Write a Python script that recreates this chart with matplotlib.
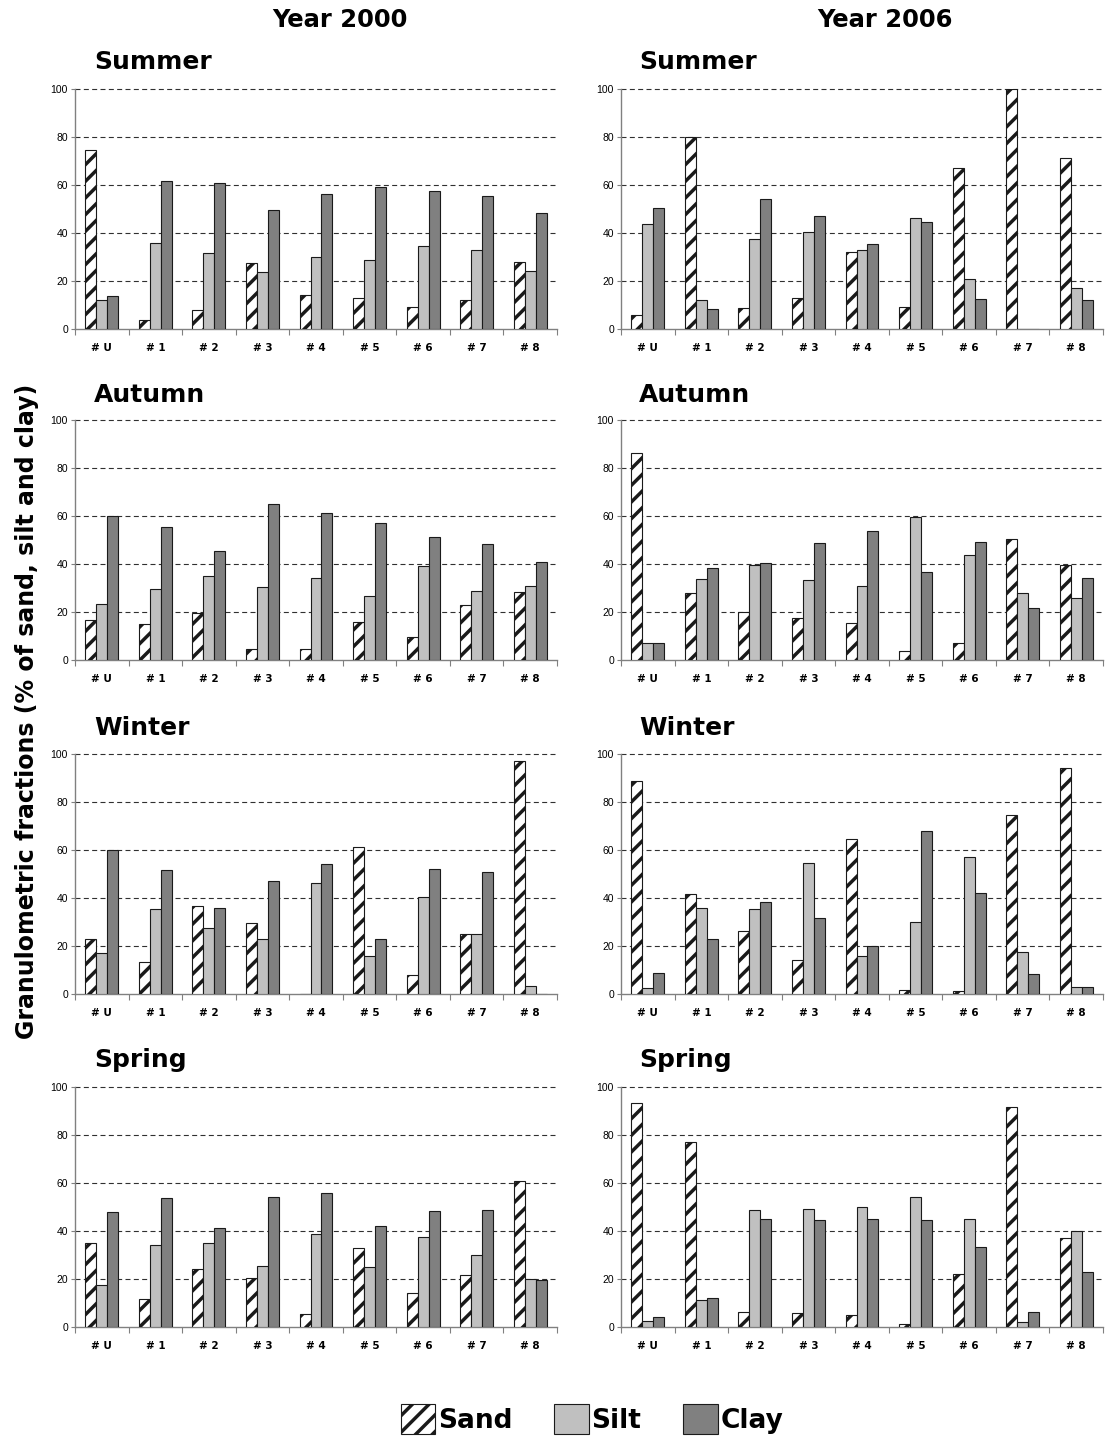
import matplotlib
matplotlib.use("Agg")
import matplotlib.pyplot as plt
import numpy as np

W_PX, H_PX = 1117, 1438
DPI = 100

SITES = ["# U", "# 1", "# 2", "# 3", "# 4", "# 5", "# 6", "# 7", "# 8"]
SEASONS = ["Summer", "Autumn", "Winter", "Spring"]
YEARS = ["Year 2000", "Year 2006"]

# year 2000
sand_2000_summer = [74.7, 3.8, 8.0, 27.5, 14.2, 12.9, 9.2, 12.1, 27.9]
silt_2000_summer = [12.2, 35.7, 31.5, 23.8, 30.0, 28.9, 34.4, 33.1, 24.2]
clay_2000_summer = [13.8, 61.5, 60.8, 49.7, 56.4, 59.0, 57.4, 55.4, 48.3]

sand_2000_autumn = [16.5, 14.9, 19.6, 4.7, 4.4, 16.0, 9.4, 22.9, 28.5]
silt_2000_autumn = [23.2, 29.6, 34.9, 30.3, 34.0, 26.8, 39.0, 28.6, 30.7]
clay_2000_autumn = [60.0, 55.3, 45.3, 64.9, 61.3, 57.1, 51.4, 48.2, 40.7]

sand_2000_winter = [22.9, 13.3, 36.6, 29.5, 0.0, 61.1, 7.9, 24.8, 97.0]
silt_2000_winter = [17.0, 35.3, 27.7, 23.1, 46.1, 15.8, 40.4, 24.8, 3.3]
clay_2000_winter = [60.0, 51.5, 36.0, 47.0, 54.2, 22.9, 51.9, 50.7, 0.0]

sand_2000_spring = [34.9, 11.8, 24.2, 20.5, 5.4, 32.8, 14.3, 21.7, 60.7]
silt_2000_spring = [17.6, 34.1, 34.9, 25.5, 38.9, 24.9, 37.7, 29.8, 19.9]
clay_2000_spring = [47.9, 53.9, 41.3, 54.2, 55.8, 42.1, 48.2, 48.8, 19.4]

# year 2006
sand_2006_summer = [5.8, 80.0, 8.6, 12.9, 32.1, 9.3, 66.9, 100.0, 71.1]
silt_2006_summer = [43.9, 11.9, 37.5, 40.3, 32.8, 46.2, 20.8, 0.0, 16.9]
clay_2006_summer = [50.4, 8.3, 54.2, 47.1, 35.6, 44.6, 12.5, 0.0, 12.2]

sand_2006_autumn = [86.1, 27.8, 20.0, 17.4, 15.3, 3.8, 6.9, 50.6, 39.7]
silt_2006_autumn = [6.9, 33.8, 39.6, 33.5, 31.0, 59.4, 43.6, 27.8, 25.7]
clay_2006_autumn = [6.9, 38.2, 40.6, 48.9, 53.6, 36.7, 49.2, 21.5, 34.0]

sand_2006_winter = [88.6, 41.7, 26.2, 14.3, 64.7, 1.8, 1.1, 74.5, 94.3]
silt_2006_winter = [2.5, 36.0, 35.6, 54.4, 15.8, 30.2, 56.9, 17.5, 2.8]
clay_2006_winter = [8.7, 22.9, 38.2, 31.6, 19.8, 68.0, 42.0, 8.2, 3.0]

sand_2006_spring = [93.2, 76.9, 6.1, 6.0, 5.1, 1.2, 22.2, 91.7, 37.1]
silt_2006_spring = [2.6, 11.2, 48.8, 49.0, 50.1, 54.3, 45.0, 2.1, 40.0]
clay_2006_spring = [4.2, 12.2, 45.0, 44.7, 45.0, 44.7, 33.4, 6.4, 23.0]

PANELS = {
    (0, 0): (sand_2000_summer, silt_2000_summer, clay_2000_summer),
    (1, 0): (sand_2000_autumn, silt_2000_autumn, clay_2000_autumn),
    (2, 0): (sand_2000_winter, silt_2000_winter, clay_2000_winter),
    (3, 0): (sand_2000_spring, silt_2000_spring, clay_2000_spring),
    (0, 1): (sand_2006_summer, silt_2006_summer, clay_2006_summer),
    (1, 1): (sand_2006_autumn, silt_2006_autumn, clay_2006_autumn),
    (2, 1): (sand_2006_winter, silt_2006_winter, clay_2006_winter),
    (3, 1): (sand_2006_spring, silt_2006_spring, clay_2006_spring),
}

SILT_COLOR = "#c0c0c0"
CLAY_COLOR = "#808080"
EDGE_COLOR = "#1a1a1a"
AXIS_COLOR = "#808080"
BAR_W = 0.205
TITLE_FONT = ["DejaVu Sans"]

plt.rcParams["font.family"] = ["Liberation Sans", "DejaVu Sans"]
plt.rcParams["hatch.linewidth"] = 2.5

fig = plt.figure(figsize=(W_PX / DPI, H_PX / DPI), dpi=DPI)

col_left = [75, 621]
axes_w = 482
row_bottom = [329, 660, 994, 1327]
axes_h = 240


def draw_panel(ax, sand, silt, clay):
    x = np.arange(len(SITES))
    ax.bar(x - BAR_W, sand, BAR_W, color="white", edgecolor=EDGE_COLOR,
           hatch="//", linewidth=0.8, zorder=3)
    ax.bar(x, silt, BAR_W, color=SILT_COLOR, edgecolor=EDGE_COLOR,
           linewidth=0.8, zorder=3)
    ax.bar(x + BAR_W, clay, BAR_W, color=CLAY_COLOR, edgecolor=EDGE_COLOR,
           linewidth=0.8, zorder=3)
    ax.set_xlim(-0.5, len(SITES) - 0.5)
    ax.set_ylim(0, 100)
    ax.set_yticks(np.arange(0, 101, 20))
    ax.tick_params(axis="y", labelsize=7.5, length=3, width=0.8,
                   color=AXIS_COLOR, pad=2)
    ax.set_xticks(np.arange(-0.5, len(SITES), 1))
    ax.set_xticklabels([])
    ax.set_xticks(x, minor=True)
    ax.set_xticklabels(SITES, minor=True, fontsize=7.5, fontweight="bold",
                       family=TITLE_FONT)
    ax.tick_params(axis="x", which="major", length=4, width=0.8,
                   color=AXIS_COLOR)
    ax.tick_params(axis="x", which="minor", length=0, pad=10)
    for yv in range(20, 101, 20):
        ax.axhline(yv, color="#303030", linewidth=0.8,
                   linestyle=(0, (4.5, 3)), zorder=1, clip_on=False)
    for side in ("top", "right"):
        ax.spines[side].set_visible(False)
    for side in ("left", "bottom"):
        ax.spines[side].set_color(AXIS_COLOR)
        ax.spines[side].set_linewidth(1.0)


for (r, c), (sand, silt, clay) in PANELS.items():
    ax = fig.add_axes([col_left[c] / W_PX, 1 - row_bottom[r] / H_PX,
                       axes_w / W_PX, axes_h / H_PX])
    draw_panel(ax, sand, silt, clay)

season_y = [62, 395, 728, 1060]
season_x = [94, 639]
for r, season in enumerate(SEASONS):
    for c in range(2):
        fig.text(season_x[c] / W_PX, 1 - season_y[r] / H_PX, season,
                 fontsize=18, fontweight="bold", family=TITLE_FONT,
                 ha="left", va="center")

year_x = [340, 885]
for c, year in enumerate(YEARS):
    fig.text(year_x[c] / W_PX, 1 - 20 / H_PX, year, fontsize=17.5,
             fontweight="bold", family=TITLE_FONT, ha="center", va="center")

fig.text(27 / W_PX, 1 - 711 / H_PX,
         "Granulometric fractions (% of sand, silt and clay)",
         rotation=90, fontsize=17, fontweight="bold", family=TITLE_FONT,
         ha="center", va="center")

handles = [
    plt.Rectangle((0, 0), 1, 1, facecolor="white", edgecolor=EDGE_COLOR,
                  hatch="//", linewidth=0.8),
    plt.Rectangle((0, 0), 1, 1, facecolor=SILT_COLOR, edgecolor=EDGE_COLOR,
                  linewidth=0.8),
    plt.Rectangle((0, 0), 1, 1, facecolor=CLAY_COLOR, edgecolor=EDGE_COLOR,
                  linewidth=0.8),
]
fig.legend(handles, ["Sand", "Silt", "Clay"], loc="center",
           bbox_to_anchor=(592 / W_PX, 1 - 1419 / H_PX), ncol=3,
           frameon=False,
           prop={"size": 19, "weight": "bold", "family": TITLE_FONT},
           handlelength=1.3, handleheight=1.4, handletextpad=0.1,
           columnspacing=1.6)

fig.savefig("out.png", dpi=DPI)
